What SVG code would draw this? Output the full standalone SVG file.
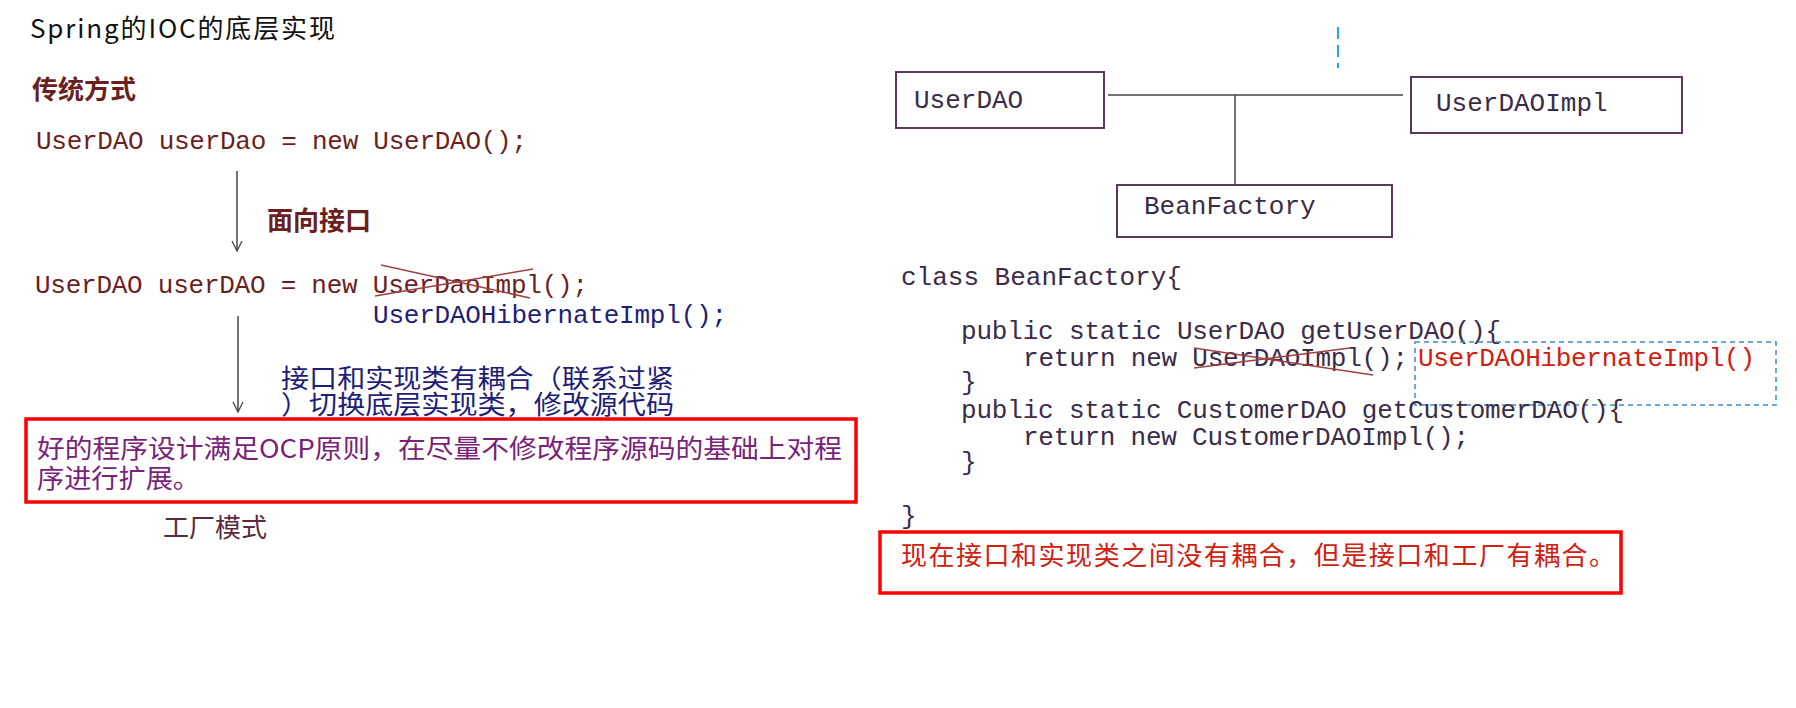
<svg xmlns="http://www.w3.org/2000/svg" width="1796" height="708" viewBox="0 0 1796 708">
<style>
text{font-family:"Liberation Mono","Noto Sans CJK SC",monospace;font-size:26px}
.cn{font-family:"Noto Sans CJK SC",sans-serif}
.dr{fill:#6b1f1f}.bl{fill:#1e1e78}.pu{fill:#7a1f7a}.rd{fill:#d02010}.cd{fill:#3a2c48}
.box{fill:none;stroke:#5a3a5a;stroke-width:2}
.red{fill:none;stroke:#ff0000;stroke-width:3.5}
.ln{stroke:#444;stroke-width:1.5;fill:none}
.x{stroke:#a04040;stroke-width:1.5}
</style>
<defs><marker id="ah" viewBox="0 0 12 12" refX="11" refY="6" markerWidth="12" markerHeight="12" markerUnits="userSpaceOnUse" orient="auto"><path d="M1 1 L11 6 L1 11" fill="none" stroke="#444" stroke-width="1.3"/></marker></defs>
<rect width="1796" height="708" fill="#fff"/>
<g id="left">
<text x="30" y="38" font-size="22" fill="#111" textLength="305" class="cn">Spring的IOC的底层实现</text>
<text x="32" y="99" class="cn dr" font-size="24" font-weight="bold">传统方式</text>
<text x="36" y="149" class="dr" textLength="491">UserDAO userDao = new UserDAO();</text>
<text x="267" y="230" class="cn dr" font-size="23" font-weight="bold">面向接口</text>
<text x="35" y="293" class="dr" textLength="553">UserDAO userDAO = new UserDaoImpl();</text>
<line class="x" x1="381" y1="265" x2="530" y2="298"/><line class="x" x1="375" y1="296" x2="533" y2="269"/>
<text x="373" y="323" class="bl" textLength="354">UserDAOHibernateImpl();</text>
<text class="cn bl" font-size="20"><tspan x="281" y="388" textLength="393" lengthAdjust="spacingAndGlyphs">接口和实现类有耦合（联系过紧</tspan><tspan x="281" y="414" textLength="393" lengthAdjust="spacingAndGlyphs">）切换底层实现类，修改源代码</tspan></text>
<rect id="ocp" class="red" x="26" y="419" width="830" height="83"/>
<text class="cn pu" font-size="21"><tspan x="37" y="458" textLength="805" lengthAdjust="spacingAndGlyphs">好的程序设计满足OCP原则，在尽量不修改程序源码的基础上对程</tspan><tspan x="37" y="488" textLength="163" lengthAdjust="spacingAndGlyphs">序进行扩展。</tspan></text>
<text x="163" y="537" class="cn" font-size="23" fill="#5a2a40">工厂模式</text>
</g>
<g id="right">
<line x1="1338" y1="27" x2="1338" y2="68" stroke="#2aa8c8" stroke-width="2" stroke-dasharray="12,6"/>
<g id="n-userdao"><rect class="box" x="896" y="72" width="208" height="56"/><text x="914" y="108" class="cd">UserDAO</text></g>
<g id="n-impl"><rect class="box" x="1411" y="77" width="271" height="56"/><text x="1436" y="111" class="cd">UserDAOImpl</text></g>
<g id="n-factory"><rect class="box" x="1117" y="185" width="275" height="52"/><text x="1144" y="214" class="cd">BeanFactory</text></g>
<g id="connectors"><path class="ln" d="M1108 95 H1403 M1235 95 V185"/></g>
<text x="901" y="285" class="cd">class BeanFactory{</text>
<text x="961" y="339" class="cd" textLength="540">public static UserDAO getUserDAO(){</text>
<text x="1023" y="366" class="cd" textLength="385">return new UserDAOImpl();</text>
<line class="x" x1="1194" y1="348" x2="1373" y2="375"/><line class="x" x1="1194" y1="368" x2="1350" y2="348"/>
<rect x="1415" y="342" width="361" height="63" fill="none" stroke="#3a8ad0" stroke-width="1.5" stroke-dasharray="5,4"/>
<text x="1418" y="366" class="rd" textLength="337">UserDAOHibernateImpl()</text>
<text x="961" y="390" class="cd">}</text>
<text x="961" y="418" class="cd" textLength="663">public static CustomerDAO getCustomerDAO(){</text>
<text x="1023" y="445" class="cd" textLength="446">return new CustomerDAOImpl();</text>
<text x="961" y="470" class="cd">}</text>
<text x="901" y="524" class="cd">}</text>
<rect class="red" x="880" y="532" width="741" height="61"/>
<text x="901" y="565" class="cn rd" font-size="25" textLength="714">现在接口和实现类之间没有耦合，但是接口和工厂有耦合。</text>
</g>
<g id="arrows">
<line class="ln" x1="237" y1="171" x2="237" y2="251" marker-end="url(#ah)"/>
<line class="ln" x1="238" y1="316" x2="238" y2="412" marker-end="url(#ah)"/>
</g>
</svg>
